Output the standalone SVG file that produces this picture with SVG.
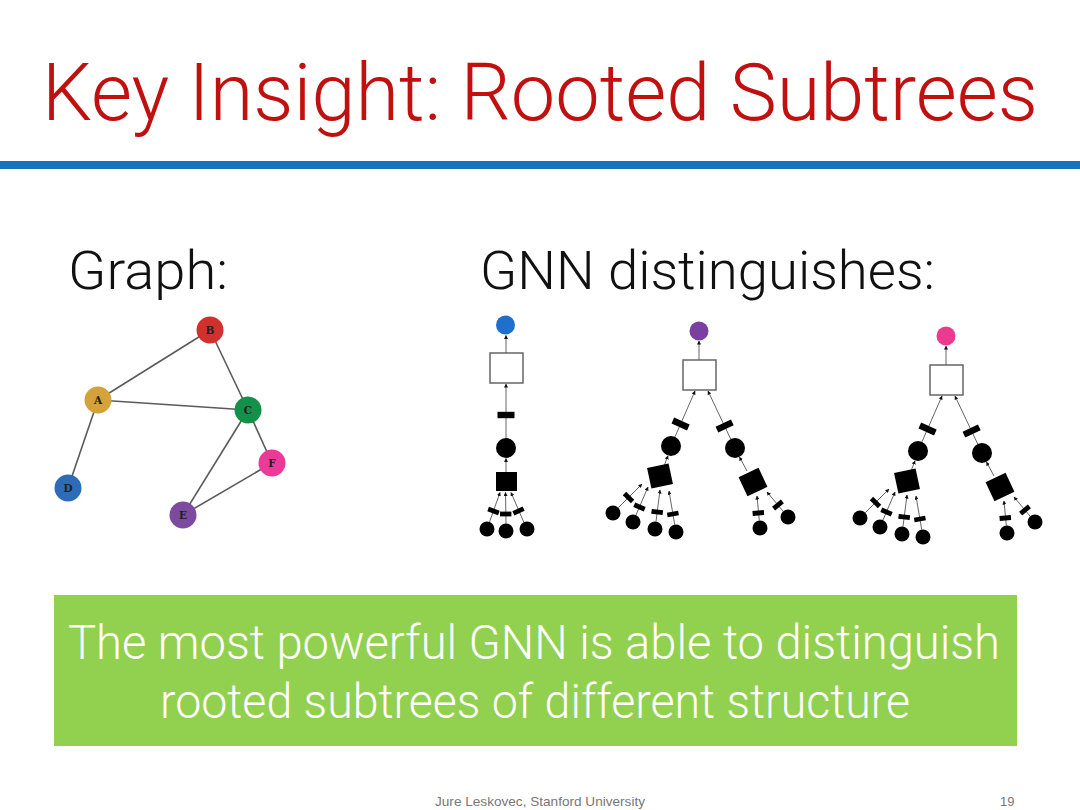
<svg xmlns="http://www.w3.org/2000/svg" width="1080" height="810" viewBox="0 0 1080 810">
<defs>
<style>
.title{font-family:Roboto,"Liberation Sans",sans-serif;font-weight:300;font-size:80px;fill:#c0100f}
.head{font-family:Roboto,"Liberation Sans",sans-serif;font-weight:300;font-size:54px;fill:#111}
.box{font-family:Roboto,"Liberation Sans",sans-serif;font-weight:300;font-size:48px;fill:#ffffff}
.foot{font-family:"Liberation Sans",Arial,sans-serif;font-size:13px;fill:#777}
.lbl{font-family:"DejaVu Serif","Liberation Serif",serif;font-weight:bold;font-size:10.5px;fill:#222;text-anchor:middle;dominant-baseline:central}
.gedge{stroke:#5a5a5a;stroke-width:1.6;fill:none}
.tedge{stroke:#555;stroke-width:0.9;fill:none;marker-end:url(#arr)}
.blk{fill:#000}
.wsq{fill:#fff;stroke:#666;stroke-width:1.5}
</style>
<marker id="arr" viewBox="0 0 10 10" refX="9" refY="5" markerWidth="4" markerHeight="4" markerUnits="userSpaceOnUse" orient="auto">
<path d="M0,0 L10,5 L0,10 z" fill="#111"/>
</marker>
<rect id="bar" x="-8.5" y="-3.2" width="17" height="6.4"/>
<rect id="sbar" x="-5.7" y="-2.4" width="11.4" height="4.8"/>
</defs>
<rect width="1080" height="810" fill="#ffffff"/>
<text class="title" x="42" y="120" textLength="996" lengthAdjust="spacingAndGlyphs">Key Insight: Rooted Subtrees</text>
<rect x="0" y="161" width="1080" height="8" fill="#1a6fc0"/>
<text class="head" x="68" y="289" textLength="160" lengthAdjust="spacingAndGlyphs">Graph:</text>
<text class="head" x="480" y="289" textLength="455" lengthAdjust="spacingAndGlyphs">GNN distinguishes:</text>

<g id="graph-edges">
<line class="gedge" x1="98" y1="400" x2="210" y2="330"/>
<line class="gedge" x1="98" y1="400" x2="248" y2="410"/>
<line class="gedge" x1="210" y1="330" x2="248" y2="410"/>
<line class="gedge" x1="98" y1="400" x2="68" y2="488"/>
<line class="gedge" x1="248" y1="410" x2="272" y2="463"/>
<line class="gedge" x1="248" y1="410" x2="183" y2="515"/>
<line class="gedge" x1="183" y1="515" x2="272" y2="463"/>
</g>
<g id="node-B"><circle cx="210" cy="330" r="13.5" fill="#d2302c"/><text class="lbl" x="210" y="330">B</text></g>
<g id="node-A"><circle cx="98" cy="400" r="13.5" fill="#d4a23a"/><text class="lbl" x="98" y="400">A</text></g>
<g id="node-C"><circle cx="248" cy="410" r="13.5" fill="#13904a"/><text class="lbl" x="248" y="410">C</text></g>
<g id="node-F"><circle cx="272" cy="463" r="13.5" fill="#ec3a98"/><text class="lbl" x="272" y="463">F</text></g>
<g id="node-D"><circle cx="68" cy="488" r="13.5" fill="#2e6cb8"/><text class="lbl" x="68" y="488">D</text></g>
<g id="node-E"><circle cx="183" cy="515" r="13.5" fill="#7c4a9e"/><text class="lbl" x="183" y="515">E</text></g>

<!-- Tree 1 -->
<g id="tree1-connectors">
<line class="tedge" x1="506" y1="353" x2="506" y2="335.5"/>
<line class="tedge" x1="506" y1="438" x2="506" y2="384"/>
<line class="tedge" x1="506" y1="472" x2="506" y2="458.5"/>
<line class="tedge" x1="489.5" y1="522" x2="500" y2="492.5"/>
<line class="tedge" x1="506" y1="523.5" x2="505.5" y2="492.5"/>
<line class="tedge" x1="523.8" y1="522.2" x2="511" y2="492.5"/>
<use href="#bar" x="506" y="415" class="blk"/>
<use href="#sbar" transform="translate(493.5,511) rotate(20)" class="blk"/>
<use href="#sbar" transform="translate(505.7,514)" class="blk"/>
<use href="#sbar" transform="translate(518.5,511) rotate(-25)" class="blk"/>
</g>
<g id="t1-root"><circle cx="505.5" cy="325" r="9.5" fill="#1f6fce"/></g>
<g id="t1-agg"><rect class="wsq" x="490" y="353" width="33" height="30"/></g>
<g id="t1-n1"><circle class="blk" cx="506" cy="448" r="10"/></g>
<g id="t1-sq1"><rect class="blk" x="496" y="472" width="21" height="19"/></g>
<g id="t1-l1"><circle class="blk" cx="487" cy="529" r="7.5"/></g>
<g id="t1-l2"><circle class="blk" cx="506" cy="531" r="7.5"/></g>
<g id="t1-l3"><circle class="blk" cx="527" cy="529" r="7.5"/></g>

<!-- Tree 2 -->
<g id="tree2">
<g id="tree2-connectors">
<line class="tedge" x1="699" y1="360" x2="699" y2="341"/>
<line class="tedge" x1="675" y1="436.8" x2="695" y2="391"/>
<line class="tedge" x1="730.7" y1="439" x2="708" y2="391"/>
<line class="tedge" x1="664" y1="466" x2="668" y2="455.8"/>
<line class="tedge" x1="747" y1="471" x2="739.5" y2="457"/>
<line class="tedge" x1="618.3" y1="507.7" x2="642" y2="484"/>
<line class="tedge" x1="636" y1="515" x2="648" y2="487"/>
<line class="tedge" x1="656" y1="521.6" x2="660" y2="490"/>
<line class="tedge" x1="674.7" y1="524.6" x2="669" y2="491"/>
<line class="tedge" x1="759.3" y1="520.5" x2="757" y2="496"/>
<line class="tedge" x1="783.2" y1="511.3" x2="767" y2="492"/>
<use href="#bar" transform="translate(680.6,424) rotate(24)" class="blk"/>
<use href="#bar" transform="translate(724.6,426) rotate(-25)" class="blk"/>
<use href="#sbar" transform="translate(628.5,497.5) rotate(45)" class="blk"/>
<use href="#sbar" transform="translate(639.5,507) rotate(23)" class="blk"/>
<use href="#sbar" transform="translate(657.2,512) rotate(7)" class="blk"/>
<use href="#sbar" transform="translate(672.9,514) rotate(-10)" class="blk"/>
<use href="#sbar" transform="translate(758.3,513) rotate(-5)" class="blk"/>
<use href="#sbar" transform="translate(778,505) rotate(-40)" class="blk"/>
</g>
<g id="t2-root"><circle cx="699" cy="331" r="9.5" fill="#7b3fa2"/></g>
<g id="t2-agg"><rect class="wsq" x="683" y="360" width="33" height="30"/></g>
<g id="t2-nL"><circle class="blk" cx="671" cy="446" r="10"/></g>
<g id="t2-nR"><circle class="blk" cx="735" cy="448" r="10"/></g>
<g id="t2-sqL"><rect class="blk" x="-11" y="-10.5" width="22" height="21" transform="translate(660,476) rotate(-12)"/></g>
<g id="t2-sqR"><rect class="blk" x="-11" y="-10.5" width="22" height="21" transform="translate(753,482) rotate(-25)"/></g>
<g id="t2-l1"><circle class="blk" cx="613" cy="513" r="7.5"/></g>
<g id="t2-l2"><circle class="blk" cx="633" cy="522" r="7.5"/></g>
<g id="t2-l3"><circle class="blk" cx="655" cy="529" r="7.5"/></g>
<g id="t2-l4"><circle class="blk" cx="676" cy="532" r="7.5"/></g>
<g id="t2-r1"><circle class="blk" cx="760" cy="528" r="7.5"/></g>
<g id="t2-r2"><circle class="blk" cx="788" cy="517" r="7.5"/></g>
</g>

<!-- Tree 3 -->
<g id="tree3" transform="translate(247,5)">
<g id="tree3-connectors">
<line class="tedge" x1="699" y1="360" x2="699" y2="341"/>
<line class="tedge" x1="675" y1="436.8" x2="695" y2="391"/>
<line class="tedge" x1="730.7" y1="439" x2="708" y2="391"/>
<line class="tedge" x1="664" y1="466" x2="668" y2="455.8"/>
<line class="tedge" x1="747" y1="471" x2="739.5" y2="457"/>
<line class="tedge" x1="618.3" y1="507.7" x2="642" y2="484"/>
<line class="tedge" x1="636" y1="515" x2="648" y2="487"/>
<line class="tedge" x1="656" y1="521.6" x2="660" y2="490"/>
<line class="tedge" x1="674.7" y1="524.6" x2="669" y2="491"/>
<line class="tedge" x1="759.3" y1="520.5" x2="757" y2="496"/>
<line class="tedge" x1="783.2" y1="511.3" x2="767" y2="492"/>
<use href="#bar" transform="translate(680.6,424) rotate(24)" class="blk"/>
<use href="#bar" transform="translate(724.6,426) rotate(-25)" class="blk"/>
<use href="#sbar" transform="translate(628.5,497.5) rotate(45)" class="blk"/>
<use href="#sbar" transform="translate(639.5,507) rotate(23)" class="blk"/>
<use href="#sbar" transform="translate(657.2,512) rotate(7)" class="blk"/>
<use href="#sbar" transform="translate(672.9,514) rotate(-10)" class="blk"/>
<use href="#sbar" transform="translate(758.3,513) rotate(-5)" class="blk"/>
<use href="#sbar" transform="translate(778,505) rotate(-40)" class="blk"/>
</g>
<g id="t3-root"><circle cx="699" cy="331" r="9.5" fill="#ec3a8f"/></g>
<g id="t3-agg"><rect class="wsq" x="683" y="360" width="33" height="30"/></g>
<g id="t3-nL"><circle class="blk" cx="671" cy="446" r="10"/></g>
<g id="t3-nR"><circle class="blk" cx="735" cy="448" r="10"/></g>
<g id="t3-sqL"><rect class="blk" x="-11" y="-10.5" width="22" height="21" transform="translate(660,476) rotate(-12)"/></g>
<g id="t3-sqR"><rect class="blk" x="-11" y="-10.5" width="22" height="21" transform="translate(753,482) rotate(-25)"/></g>
<g id="t3-l1"><circle class="blk" cx="613" cy="513" r="7.5"/></g>
<g id="t3-l2"><circle class="blk" cx="633" cy="522" r="7.5"/></g>
<g id="t3-l3"><circle class="blk" cx="655" cy="529" r="7.5"/></g>
<g id="t3-l4"><circle class="blk" cx="676" cy="532" r="7.5"/></g>
<g id="t3-r1"><circle class="blk" cx="760" cy="528" r="7.5"/></g>
<g id="t3-r2"><circle class="blk" cx="788" cy="517" r="7.5"/></g>
</g>

<g id="callout">
<rect x="54" y="595" width="963" height="151" fill="#92d050"/>
<text class="box" x="68" y="659" textLength="932" lengthAdjust="spacingAndGlyphs">The most powerful GNN is able to distinguish</text>
<text class="box" x="160" y="718" textLength="750" lengthAdjust="spacingAndGlyphs">rooted subtrees of different structure</text>
</g>
<text class="foot" x="435" y="806" textLength="210" lengthAdjust="spacingAndGlyphs">Jure Leskovec, Stanford University</text>
<text class="foot" x="1000" y="806">19</text>
</svg>
